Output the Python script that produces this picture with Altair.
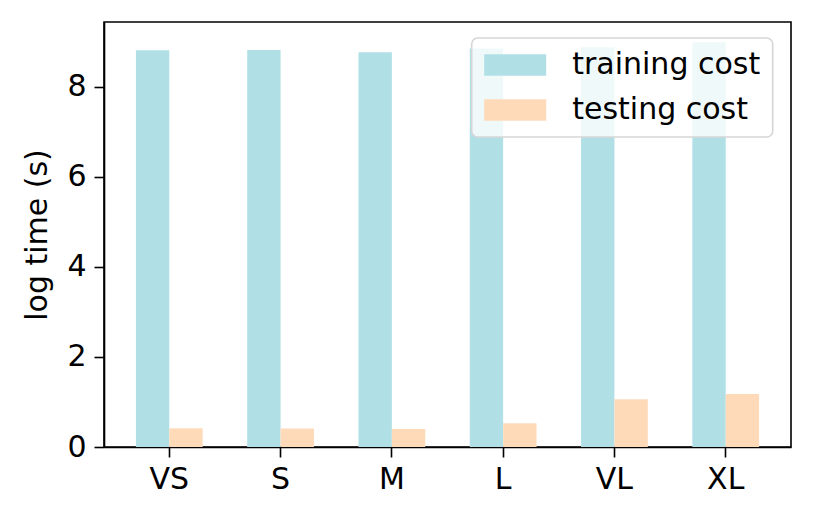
import altair as alt
import pandas as pd

categories = ["VS", "S", "M", "L", "VL", "XL"]
training_cost = [8.81, 8.82, 8.77, 8.85, 8.88, 8.99]
testing_cost = [0.415, 0.41, 0.40, 0.53, 1.06, 1.18]
series_names = ["training cost", "testing cost"]
series_colors = ["#B0E0E6", "#FFDAB9"]
y_ticks = [0, 2, 4, 6, 8]

rows = []
for c, tr, te in zip(categories, training_cost, testing_cost):
    rows.append({"size": c, "series": series_names[0], "value": tr})
    rows.append({"size": c, "series": series_names[1], "value": te})
df = pd.DataFrame(rows)

FONT = "DejaVu Sans"
FS = 30

chart = alt.Chart(df).mark_bar(strokeWidth=0).encode(
    x=alt.X("size:N", sort=categories,
            scale=alt.Scale(paddingInner=0.4, paddingOuter=0.2867),
            axis=alt.Axis(title=None, labelAngle=0, labelFont=FONT, labelFontSize=FS,
                          labelColor="black", tickColor="black", tickSize=10, tickWidth=1.6,
                          domainColor="black", domainWidth=1.6, labelPadding=7)),
    xOffset=alt.XOffset("series:N", sort=series_names,
                        scale=alt.Scale(paddingInner=0, paddingOuter=0)),
    y=alt.Y("value:Q", scale=alt.Scale(domain=[0, 9.44], nice=False, zero=True),
            axis=alt.Axis(title="log time (s)", values=y_ticks, grid=False,
                          labelFont=FONT, labelFontSize=FS, labelColor="black",
                          titleFont=FONT, titleFontSize=FS, titleFontWeight="normal",
                          titleColor="black", titlePadding=14,
                          tickColor="black", tickSize=10, tickWidth=1.6,
                          domainColor="black", domainWidth=1.6, labelPadding=8)),
    color=alt.Color("series:N", sort=series_names,
                    scale=alt.Scale(domain=series_names, range=series_colors),
                    legend=alt.Legend(title=None, orient="none", legendX=367.7, legendY=16,
                                      symbolType="M-2.857,-1H2.857V1H-2.857Z",
                                      symbolSize=471, symbolOffset=16.5,
                                      symbolStrokeWidth=0, symbolOpacity=1,
                                      labelOffset=42, labelFont=FONT, labelFontSize=FS,
                                      labelColor="black", labelLimit=400, padding=12,
                                      fillColor="rgba(255,255,255,0.8)",
                                      strokeColor="#d6d6d6",
                                      cornerRadius=6)),
).properties(
    width=687, height=425,
    autosize=alt.AutoSizeParams(type="none"),
    padding={"left": 96, "top": 14, "right": 10, "bottom": 60},
).configure_view(stroke="black", strokeWidth=1.6
).configure_legend(rowPadding=15, strokeWidth=1.6)

chart.save("out.html", embed_options={"renderer": "svg", "actions": False})
